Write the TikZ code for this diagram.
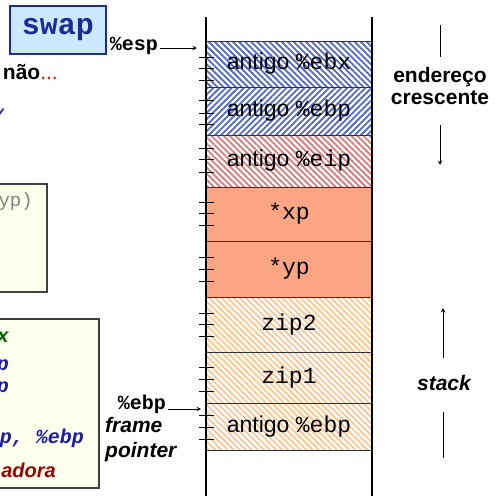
\documentclass[tikz,border=0pt]{standalone}
\usepackage{fontspec}
\setmainfont{Liberation Sans}
\setmonofont{Liberation Mono}
\usetikzlibrary{shapes,arrows,positioning,calc,patterns.meta}
\usepackage{xcolor}
\definecolor{hatchblue}{HTML}{5066D0}
\definecolor{hatchred}{HTML}{DC7A7A}
\definecolor{hatchorange}{HTML}{FCC690}
\definecolor{salmon}{HTML}{FBA585}
\definecolor{swapfill}{HTML}{CCE8FF}
\definecolor{swapblue}{HTML}{1F2A99}
\definecolor{codefill}{HTML}{FFFFEE}
\definecolor{codeblue}{HTML}{1A1AAA}
\definecolor{codegreen}{HTML}{006A00}
\definecolor{codered}{HTML}{A00000}

\begin{document}
\begin{tikzpicture}[x=1pt, y=-1pt]
    \tikzstyle{cell} = [rectangle, draw=black!80, line width=1pt, minimum width=166pt, inner sep=0pt, outer sep=0pt, font=\fontsize{23}{26}\selectfont]
    \tikzstyle{hatch} = [pattern={Lines[angle=#1, distance=4.3pt, line width=1.8pt]}]
    \tikzstyle{codebox} = [draw=black!75, line width=1.2pt, fill=codefill]
    \tikzstyle{label} = [font=\fontsize{21}{22}\selectfont\bfseries, align=center, inner sep=0pt]
    \tikzstyle{code} = [font=\fontsize{20}{22}\selectfont\ttfamily\bfseries\itshape, anchor=east, inner sep=0pt]
    \tikzstyle{arrow} = [line width=1pt, ->, >=stealth]
    \tikzstyle{wall} = [line width=2pt, black]
    \useasboundingbox (0,0) rectangle (495,496);

    % Caixas do lado esquerdo
    \draw[codebox] (-10,184) rectangle (47,292);
    \draw[codebox] (-10,319) rectangle (99,488);
    \node[code, font=\fontsize{19}{20}\selectfont\ttfamily, text=black!50] (proto) at (33,202) {yp)};
    \node[code, text=codegreen] (l1) at (9,337) {x};
    \node[code, text=codeblue] (l2) at (9,367) {p};
    \node[code, text=codeblue] (l3) at (9,389) {p};
    \node[code, text=codeblue] (l4) at (84,438) {p, \%ebp};
    \node[code, font=\fontsize{20}{22}\selectfont\bfseries\itshape, text=codered] (l5) at (56,470) {adora};
    \node[code, text=codeblue] (frag) at (4,116) {/};
    \node[label, anchor=east] (nao) at (58,72) {não\textcolor{red}{\normalfont ...}};

    \node[draw=swapblue, line width=1.2pt, fill=swapfill, minimum width=96pt, minimum height=48pt, font=\fontsize{30}{32}\selectfont\ttfamily\bfseries, text=swapblue] (swap) at (58,30) {swap};

    % Pilha
    \node[cell, minimum height=46pt, hatch=-45, pattern color=hatchblue] (c1) at (289,64) {antigo \texttt{\%ebx}};
    \node[cell, minimum height=48pt, hatch=45, pattern color=hatchblue, below=0pt of c1] (c2) {antigo \texttt{\%ebp}};
    \node[cell, minimum height=52pt, hatch=-45, pattern color=hatchred, below=0pt of c2] (c3) {antigo \texttt{\%eip}};
    \node[cell, minimum height=54pt, fill=salmon, below=0pt of c3] (c4) {\texttt{*xp}};
    \node[cell, minimum height=56pt, fill=salmon, below=0pt of c4] (c5) {\texttt{*yp}};
    \node[cell, minimum height=55pt, hatch=-45, pattern color=hatchorange, below=0pt of c5] (c6) {\texttt{zip2}};
    \node[cell, minimum height=51pt, hatch=-45, pattern color=hatchorange, below=0pt of c6] (c7) {\texttt{zip1}};
    \node[cell, minimum height=47pt, hatch=-45, pattern color=hatchorange, below=0pt of c7] (c8) {antigo \texttt{\%ebp}};

    \draw[wall] (206,17) -- (206,497);
    \draw[wall] (372,17) -- (372,497);
    \foreach \y in {57,68,80,100,113,124,148,159,172,202,213,225,257,269,281,313,324,336,367,379,391,415,427,439}
        \draw[line width=1pt] (199,\y) -- (214,\y);

    % Ponteiros
    \node[font=\fontsize{20}{21}\selectfont\ttfamily\bfseries, inner sep=2pt] (esp) at (134,46) {\%esp};
    \coordinate (espend) at (197,48);
    \draw[arrow] (esp.east |- espend) -- (espend);
    \node[font=\fontsize{20}{21}\selectfont\ttfamily\bfseries, inner sep=2pt] (ebp) at (142,404) {\%ebp};
    \coordinate (ebpend) at (201,409);
    \draw[arrow] (ebp.east |- ebpend) -- (ebpend);
    \node[label, font=\fontsize{21}{25}\selectfont\bfseries\itshape, align=left, anchor=north west] (fp) at (105,417) {frame\\pointer};

    % Setas da direita
    \node[label] (addr) at (440,86) {endereço\\crescente};
    \coordinate (a0) at (440,25);
    \coordinate (a1) at (440,57);
    \coordinate (a2) at (440,125);
    \coordinate (a3) at (440,165);
    \draw[line width=1pt] (a0) -- (a1);
    \draw[arrow] (a2) -- (a3);
    \node[label, font=\fontsize{21}{22}\selectfont\bfseries\itshape] (stack) at (444,383) {stack};
    \coordinate (s0) at (443,358);
    \coordinate (s1) at (443,308);
    \coordinate (s2) at (443,412);
    \coordinate (s3) at (443,458);
    \draw[arrow] (s0) -- (s1);
    \draw[line width=1pt] (s2) -- (s3);
\end{tikzpicture}
\end{document}
